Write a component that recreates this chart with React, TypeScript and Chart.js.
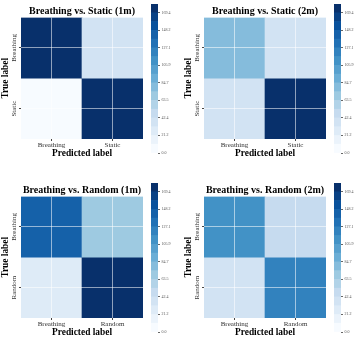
import React, { useEffect, useRef } from "react";
import { Chart, registerables } from "chart.js";

Chart.register(...registerables);

// ---------- data ----------
const classesStatic = ["Breathing", "Static"];
const classesRandom = ["Breathing", "Random"];
const titles = [
  "Breathing vs. Static (1m)",
  "Breathing vs. Static (2m)",
  "Breathing vs. Random (1m)",
  "Breathing vs. Random (2m)",
];
// rows = true label, columns = predicted label
const static1m = [
  [178, 36],
  [4, 176],
];
const static2m = [
  [82, 35],
  [32, 176],
];
const random1m = [
  [145, 66],
  [24, 176],
];
const random2m = [
  [112, 45],
  [36, 122],
];
const colorbarMax = 180;
const colorbarBands = 17;
const colorbarTicks = [0.0, 21.2, 42.4, 63.5, 84.7, 105.9, 127.1, 148.2, 169.4];

// ---------- colour map (matplotlib "Blues") ----------
const BLUES = [
  [247, 251, 255],
  [222, 235, 247],
  [198, 219, 239],
  [158, 202, 225],
  [107, 174, 214],
  [66, 146, 198],
  [33, 113, 181],
  [8, 81, 156],
  [8, 48, 107],
];
function blues(t: number): string {
  const p = Math.max(0, Math.min(1, t)) * 8;
  const i = Math.min(7, Math.floor(p));
  const f = p - i;
  const a = BLUES[i];
  const b = BLUES[i + 1];
  const c = a.map((v, k) => Math.round(v + (b[k] - v) * f));
  return `rgb(${c[0]},${c[1]},${c[2]})`;
}
function bandIndex(v: number): number {
  return Math.max(0, Math.min(colorbarBands - 1, Math.floor((v / colorbarMax) * colorbarBands)));
}
function bandColor(v: number): string {
  return blues(bandIndex(v) / (colorbarBands - 1));
}

const SERIF = "'Liberation Serif', 'DejaVu Serif', serif";

// panel-relative geometry
const MAT_W = 150;
const MAT_H = 170;
const MAT_LEFT = 21;
const MAT_RIGHT = 143;
const MAT_BOTTOM = 139;
const CB_X = 146;
const CB_W = 34;
const CB_LEFT = 5;
const CB_RIGHT = 12;
const CB_TOP = 4;
const CB_BOTTOM = 153;

const rotatedYLabels = {
  id: "rotatedYLabels",
  afterDraw(chart: any) {
    const labels: string[] = chart.options.plugins.rotatedYLabels.labels;
    const ys = chart.scales.y;
    const ctx = chart.ctx;
    ctx.save();
    ctx.font = `7px ${SERIF}`;
    ctx.fillStyle = "#333";
    ctx.textAlign = "center";
    ctx.textBaseline = "middle";
    labels.forEach((lab, i) => {
      const y = ys.getPixelForValue(i + 0.5);
      ctx.save();
      ctx.translate(chart.chartArea.left - 7, y);
      ctx.rotate(-Math.PI / 2);
      ctx.fillText(lab, 0, 0);
      ctx.restore();
    });
    ctx.restore();
  },
};

function Panel({
  ox,
  oy,
  title,
  classes,
  values,
}: {
  ox: number;
  oy: number;
  title: string;
  classes: string[];
  values: number[][];
}) {
  const matRef = useRef<HTMLCanvasElement>(null);
  const cbRef = useRef<HTMLCanvasElement>(null);

  useEffect(() => {
    const datasets = values.map((row, r) => ({
      data: row.map(() => [r, r + 1]),
      backgroundColor: row.map((v) => bandColor(v)),
      borderWidth: 0,
      barPercentage: 1,
      categoryPercentage: 1,
      grouped: false,
    }));
    const m = new Chart(matRef.current!, {
      type: "bar",
      data: { labels: classes, datasets: datasets as any },
      plugins: [rotatedYLabels],
      options: {
        responsive: false,
        animation: false,
        layout: { padding: { left: 0, right: MAT_W - MAT_RIGHT, top: 0, bottom: 0 } },
        plugins: {
          legend: { display: false },
          tooltip: { enabled: false },
          title: {
            display: true,
            fullSize: false,
            text: title,
            color: "#000",
            font: { family: SERIF, size: 10, weight: "bold" },
            padding: { top: 5.5, bottom: 0 },
          },
          rotatedYLabels: { labels: classes },
        } as any,
        scales: {
          x: {
            type: "category",
            offset: true,
            border: { display: false },
            grid: {
              offset: false,
              z: 1,
              color: "rgba(255,255,255,0.55)",
              lineWidth: 1,
              drawTicks: true,
              tickLength: 2,
              tickColor: "#444",
            },
            ticks: { color: "#333", font: { family: SERIF, size: 7 }, padding: 0, maxRotation: 0 },
            title: {
              display: true,
              text: "Predicted label",
              color: "#000",
              font: { family: SERIF, size: 9.4, weight: "bold" },
              padding: { top: 0, bottom: 11 },
            },
            afterFit: (s: any) => {
              s.height = MAT_H - MAT_BOTTOM;
            },
          },
          y: {
            type: "linear",
            min: 0,
            max: values.length,
            reverse: true,
            border: { display: false },
            afterBuildTicks: (s: any) => {
              s.ticks = classes.map((_, i) => ({ value: i + 0.5 }));
            },
            grid: {
              z: 1,
              color: "rgba(255,255,255,0.55)",
              lineWidth: 1,
              drawTicks: true,
              tickLength: 2,
              tickColor: "#444",
            },
            ticks: { display: false },
            title: {
              display: true,
              text: "True label",
              color: "#000",
              font: { family: SERIF, size: 9.4, weight: "bold" },
              padding: { top: 0, bottom: 0 },
            },
            afterFit: (s: any) => {
              s.width = MAT_LEFT;
            },
          },
        },
      } as any,
    });

    const step = colorbarMax / colorbarBands;
    const bandSets = Array.from({ length: colorbarBands }, (_, k) => ({
      data: [[k * step, (k + 1) * step]],
      backgroundColor: blues(k / (colorbarBands - 1)),
      borderWidth: 0,
      barPercentage: 1,
      categoryPercentage: 1,
      grouped: false,
    }));
    const cb = new Chart(cbRef.current!, {
      type: "bar",
      data: { labels: [""], datasets: bandSets as any },
      options: {
        responsive: false,
        animation: false,
        layout: { padding: { left: CB_LEFT, right: 0, top: CB_TOP, bottom: MAT_H - CB_BOTTOM } },
        plugins: { legend: { display: false }, tooltip: { enabled: false }, title: { display: false } },
        scales: {
          x: { display: false, offset: true },
          y: {
            type: "linear",
            position: "right",
            min: 0,
            max: colorbarMax,
            border: { display: false },
            afterBuildTicks: (s: any) => {
              s.ticks = colorbarTicks.map((v) => ({ value: v }));
            },
            grid: { drawOnChartArea: false, drawTicks: true, tickLength: 2, tickColor: "#666" },
            ticks: {
              color: "#555",
              font: { family: SERIF, size: 4 },
              padding: 1.5,
              callback: (v: any) => Number(v).toFixed(1),
            },
            afterFit: (s: any) => {
              s.width = CB_W - CB_RIGHT;
            },
          },
        },
      } as any,
    });
    return () => {
      m.destroy();
      cb.destroy();
    };
  }, []);

  return (
    <>
      <canvas
        ref={matRef}
        width={MAT_W}
        height={MAT_H}
        style={{ position: "absolute", left: ox, top: oy, width: MAT_W, height: MAT_H }}
      />
      <canvas
        ref={cbRef}
        width={CB_W}
        height={MAT_H}
        style={{ position: "absolute", left: ox + CB_X, top: oy, width: CB_W, height: MAT_H }}
      />
    </>
  );
}

export default function App() {
  useEffect(() => {
    document.body.style.margin = "0";
  }, []);
  return (
    <div style={{ position: "relative", width: 359, height: 339, overflow: "hidden", background: "#fff" }}>
      <Panel ox={0} oy={0} title={titles[0]} classes={classesStatic} values={static1m} />
      <Panel ox={183} oy={0} title={titles[1]} classes={classesStatic} values={static2m} />
      <Panel ox={0} oy={179} title={titles[2]} classes={classesRandom} values={random1m} />
      <Panel ox={183} oy={179} title={titles[3]} classes={classesRandom} values={random2m} />
    </div>
  );
}
